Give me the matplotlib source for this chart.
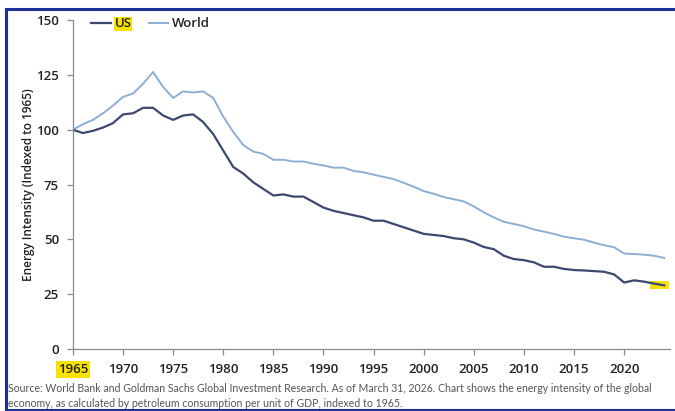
import matplotlib.pyplot as plt
from matplotlib.patches import Rectangle
from matplotlib.lines import Line2D

plt.rcParams['font.family'] = ['Open Sans', 'DejaVu Sans']

years = list(range(1965, 2025))

us = [100, 98.5, 99.5, 101, 103, 107, 107.5, 110, 110, 106.5,
      104.5, 106.5, 107, 103.5, 98, 90.5, 83, 80, 76, 73,
      70, 70.5, 69.5, 69.5, 67, 64.5, 63, 62, 61, 60,
      58.5, 58.5, 57, 55.5, 54, 52.5, 52, 51.5, 50.5, 50,
      48.5, 46.5, 45.5, 42.5, 41, 40.5, 39.5, 37.5, 37.5, 36.5,
      36, 35.8, 35.5, 35.2, 34, 30.3, 31.3, 30.7, 29.8, 29]

world = [100, 102.5, 104.5, 107.5, 111, 115, 116.5, 121, 126.3, 119.5,
         114.5, 117.5, 117, 117.5, 114.5, 106, 99, 93, 90, 89,
         86.3, 86.3, 85.5, 85.5, 84.5, 83.7, 82.7, 82.7, 81.2, 80.6,
         79.5, 78.5, 77.5, 75.8, 74, 72, 70.8, 69.3, 68.3, 67.3,
         65, 62.3, 60, 58, 57, 56, 54.5, 53.5, 52.5, 51.2,
         50.5, 49.8, 48.5, 47.3, 46.4, 43.5, 43.3, 43, 42.5, 41.5]

yticks = [0, 25, 50, 75, 100, 125, 150]
xticks = list(range(1965, 2025, 5))

source = ("Source: World Bank and Goldman Sachs Global Investment Research. As of March 31, 2026. "
          "Chart shows the energy intensity of the global\n"
          "economy, as calculated by petroleum consumption per unit of GDP, indexed to 1965.")

us_color = '#3c4870'
world_color = '#8eaed4'
grey = '#8a8a8a'

fig = plt.figure(figsize=(6.75, 4.11), dpi=100)
ax = fig.add_axes([0.108, 0.151, 0.885, 0.8])

ax.plot(years, world, color=world_color, linewidth=1.4)
ax.plot(years, us, color=us_color, linewidth=1.6)

# yellow highlight on last point
ax.add_patch(Rectangle((2022.6, 27.2), 1.9, 4.0, color='#f7e200', zorder=1, linewidth=0))

ax.set_xlim(1965, 2024.6)
ax.set_ylim(0, 150)
ax.set_yticks(yticks)
ax.set_xticks(xticks)
ax.set_xticklabels([str(x) for x in xticks])

for s in ['top', 'right']:
    ax.spines[s].set_visible(False)
for s in ['left', 'bottom']:
    ax.spines[s].set_color(grey)
    ax.spines[s].set_linewidth(0.9)
ax.tick_params(axis='both', colors=grey, length=4, width=0.9, labelsize=9.5,
               labelcolor='#222222')
ax.tick_params(axis='x', pad=6)
ax.tick_params(axis='y', pad=6)
for t in ax.get_xticklabels() + ax.get_yticklabels():
    t.set_fontweight('semibold')

lbl = ax.get_xticklabels()[0]
lbl.set_bbox(dict(facecolor='#f7e200', edgecolor='none', pad=1.5))

ax.set_ylabel('Energy Intensity (Indexed to 1965)', fontsize=8.5, color='#222222',
              labelpad=1, fontweight='semibold')

handles = [Line2D([], [], color=us_color, linewidth=1.6),
           Line2D([], [], color=world_color, linewidth=1.4)]
leg = ax.legend(handles, ['US', 'World'], loc='upper left', bbox_to_anchor=(0.01, 1.045),
                ncol=2, frameon=False, fontsize=9.5, handlelength=1.5, handletextpad=0.3,
                columnspacing=1.3)
leg.get_texts()[0].set_bbox(dict(facecolor='#f7e200', edgecolor='none', pad=0.5))
for t in leg.get_texts():
    t.set_color('#222222')
    t.set_fontweight('semibold')

fig.text(0.012, 0.006, source, fontsize=7.6, color='#555555', ha='left', va='bottom',
         linespacing=1.35, family=['Lato', 'DejaVu Sans'])

# blue frame around the picture
frame = dict(color='#1f2f9a', linewidth=2.2, transform=fig.transFigure)
fig.add_artist(Line2D([0.009, 1.0], [0.978, 0.978], **frame))
fig.add_artist(Line2D([0.009, 0.009], [0.003, 0.978], **frame))
fig.add_artist(Line2D([0.009, 1.0], [0.003, 0.003], **frame))

fig.savefig('out.png', dpi=100)
